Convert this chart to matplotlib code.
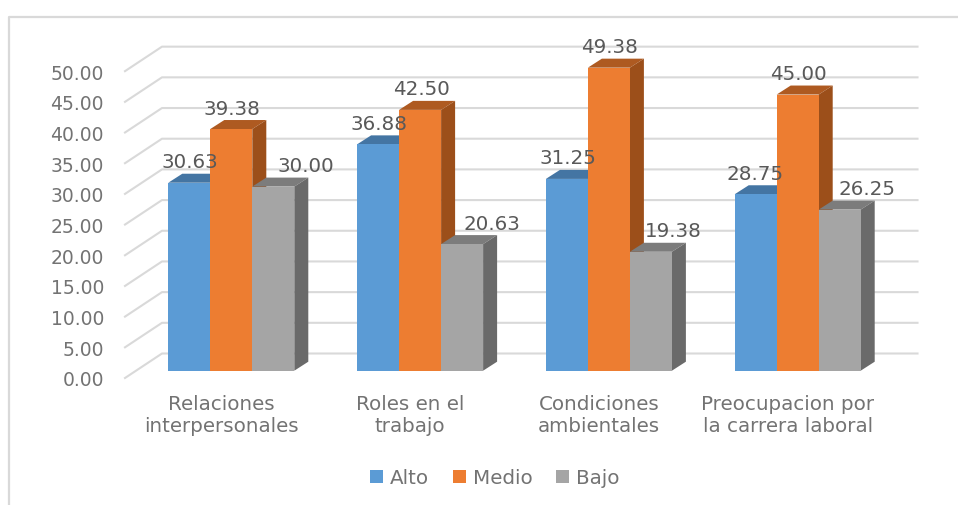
import matplotlib
matplotlib.use("Agg")
import matplotlib.pyplot as plt
from matplotlib.patches import Polygon

categories = ["Relaciones\ninterpersonales", "Roles en el\ntrabajo",
              "Condiciones\nambientales", "Preocupacion por\nla carrera laboral"]
series_names = ["Alto", "Medio", "Bajo"]
alto = [30.63, 36.88, 31.25, 28.75]
medio = [39.38, 42.50, 49.38, 45.00]
bajo = [30.00, 20.63, 19.38, 26.25]
y_ticks = [0, 5, 10, 15, 20, 25, 30, 35, 40, 45, 50]

# pixel layout of the picture
W, H = 958, 505
X0, GROUP_PX = 231.3, 188.8
Y0, UNIT_PX = 370.7, 6.137

front_colors = ["#5B9BD5", "#ED7D31", "#A5A5A5"]
top_colors = ["#4475A3", "#AE5A21", "#7C7C7C"]
side_colors = ["#3F6C96", "#9C4F1A", "#6A6A6A"]
GRID = "#D9D9D9"
TICK_TEXT = "#737373"
LABEL_TEXT = "#595959"

# how far each data label sits from the centre of its bar, in pixels
label_shift = [[1, 1, 33], [1, 1, 30], [1, 1, 22], [-1, 1, 27]]


def px_x(dx):
    return dx / GROUP_PX


def px_y(dy):
    return dy / UNIT_PX


fig = plt.figure(figsize=(W / 100, H / 100), dpi=100)
ax = fig.add_axes([0, 0, 1, 1])
ax.set_xlim(-X0 / GROUP_PX, (W - X0) / GROUP_PX)
ax.set_ylim((Y0 - H) / UNIT_PX, Y0 / UNIT_PX)
ax.axis("off")

# outer frame, only top and left show
ax.plot([px_x(9 - X0), px_x(9 - X0), px_x(W - X0)],
        [px_y(Y0 - H), px_y(Y0 - 17), px_y(Y0 - 17)], color=GRID, lw=1.6, zorder=1)

# back wall gridlines
x_front, x_back, x_end = px_x(125 - X0), px_x(162 - X0), px_x(917.5 - X0)
for v in y_ticks:
    y_f = v + px_y(Y0 - 378)
    y_b = v + px_y(Y0 - 353.5)
    ax.plot([x_front, x_back, x_end], [y_f, y_b, y_b], color=GRID, lw=1.5, zorder=1)
    ax.text(px_x(104 - X0), y_f - px_y(1), f"{v:.2f}", ha="right", va="center_baseline",
            fontsize=13.5, color=TICK_TEXT, zorder=5)

# the bars, left to right so each one covers the side of the one before
bar_w = 42 / GROUP_PX
depth_x, depth_y = px_x(14), px_y(9)
handles = []
for g in range(len(categories)):
    for s, values in enumerate([alto, medio, bajo]):
        v = values[g]
        xc = g + (s - 1) * bar_w
        left, right = xc - bar_w / 2, xc + bar_w / 2
        z = 2 + g + s * 0.1
        b = ax.bar(xc, v, bar_w, color=front_colors[s], zorder=z + 0.02,
                   label=series_names[s] if g == 0 else None)
        if g == 0:
            handles.append(b)
        ax.add_patch(Polygon([(left, v), (left + depth_x, v + depth_y),
                              (right + depth_x, v + depth_y), (right, v)],
                             color=top_colors[s], lw=0, zorder=z))
        ax.add_patch(Polygon([(right, 0), (right + depth_x, depth_y),
                              (right + depth_x, v + depth_y), (right, v)],
                             color=side_colors[s], lw=0, zorder=z + 0.01))
        ax.text(xc + px_x(label_shift[g][s]), v + px_y(22), f"{v:.2f}",
                ha="center", va="center_baseline", fontsize=14.3,
                color=LABEL_TEXT, zorder=10)

for g, name in enumerate(categories):
    ax.text(g + px_x(-10), px_y(Y0 - 415.5), name, ha="center", va="center",
            fontsize=14.3, color=TICK_TEXT, linespacing=1.25, zorder=5)

ax.legend(handles=handles, labels=series_names, loc="center", ncols=3, frameon=False,
          bbox_to_anchor=(495 / W, 1 - 478 / H), fontsize=14.3, labelcolor=TICK_TEXT,
          handlelength=0.65, handleheight=0.65, handletextpad=0.35, columnspacing=1.2)

fig.savefig("out.png", dpi=100, facecolor="white")
